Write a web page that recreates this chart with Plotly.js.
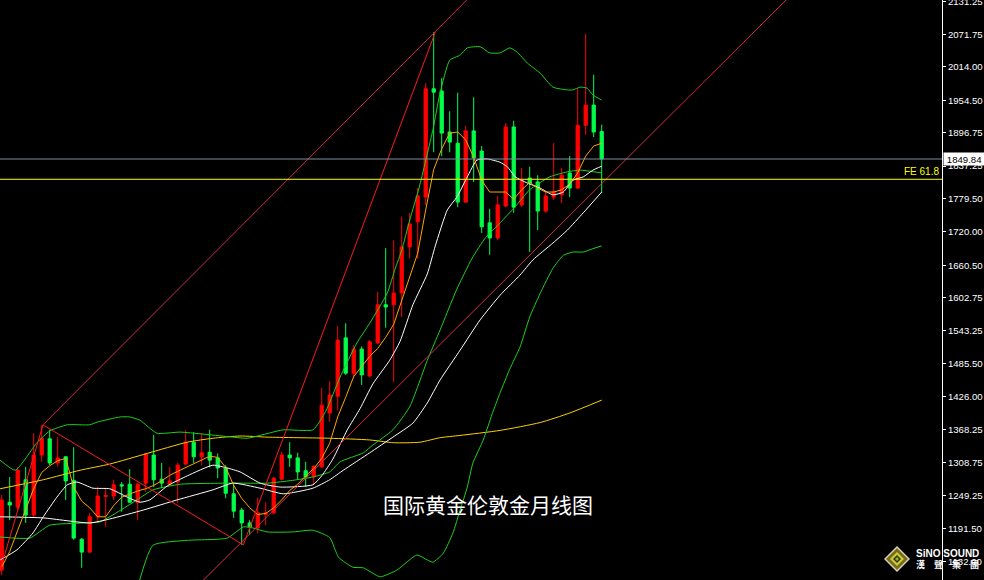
<!DOCTYPE html>
<html><head><meta charset="utf-8">
<script src="https://cdn.plot.ly/plotly-3.0.1.min.js"></script>
<style>html,body{margin:0;padding:0;background:#000;overflow:hidden}#chart{width:984px;height:580px}</style>
</head><body><div id="chart"></div>
<script>
// ---- monthly candles (index, OHLC) ----
const candleIndex = [0,1,2,3,4,5,6,7,8,9,10,11,12,13,14,15,16,17,18,19,20,21,22,23,24,25,26,27,28,29,30,31,32,33,34,35,36,37,38,39,40,41,42,43,44,45,46,47,48,49,50,51,52,53,54,55,56,57,58,59,60,61,62,63,64,65,66,67,68,69,70,71,72,73,74,75];
const openP  = [1117,1238,1229,1278,1215,1322,1351,1308,1319,1277,1172,1149,1212,1248,1249,1269,1270,1238,1272,1322,1279,1270,1274,1306,1345,1319,1327,1317,1299,1253,1224,1201,1192,1216,1219,1279,1322,1317,1294,1283,1301,1397,1427,1531,1468,1511,1463,1522,1590,1590,1611,1693,1738,1782,1975,1971,1898,1878,1773,1900,1864,1736,1709,1766,1907,1768,1816,1809,1757,1782,1786,1825,1798,1910,1946,1899];
const highP  = [1251,1283,1301,1301,1361,1376,1367,1354,1320,1336,1174,1219,1265,1263,1278,1274,1297,1272,1326,1358,1308,1301,1308,1367,1363,1361,1367,1325,1304,1269,1228,1206,1246,1238,1283,1328,1345,1326,1310,1304,1442,1454,1552,1557,1518,1516,1527,1613,1691,1705,1747,1754,1798,1985,2076,1994,1935,1968,1909,1960,1873,1761,1784,1914,1918,1834,1836,1821,1791,1878,1834,1855,1976,2073,2000,1911];
const lowP   = [1108,1206,1224,1201,1212,1310,1304,1301,1242,1171,1121,1147,1203,1194,1242,1221,1237,1206,1256,1265,1263,1269,1237,1304,1308,1304,1300,1281,1245,1210,1162,1180,1183,1197,1216,1277,1301,1278,1265,1270,1299,1381,1402,1465,1459,1447,1461,1520,1549,1452,1568,1673,1672,1768,1862,1855,1862,1764,1771,1809,1718,1679,1705,1764,1754,1764,1684,1723,1754,1777,1771,1782,1796,1893,1889,1789];
const closeP = [1242,1233,1295,1215,1322,1352,1308,1317,1276,1174,1149,1212,1249,1250,1269,1267,1238,1270,1324,1278,1272,1276,1304,1345,1319,1326,1313,1299,1254,1222,1201,1194,1219,1219,1281,1322,1317,1292,1283,1302,1411,1429,1527,1468,1511,1465,1524,1590,1586,1611,1693,1734,1784,1975,1969,1896,1880,1773,1900,1852,1729,1709,1768,1907,1764,1812,1807,1757,1784,1791,1821,1798,1910,1946,1898,1849.84];

// ---- indicator lines ----
const ma5 = [1122,1150,1188,1225,1262,1291,1303,1312,1316,1265,1240,1228,1212,1212,1232,1247,1253,1258,1262,1268,1276,1286,1293,1300,1307,1314,1320,1318,1300,1268,1245,1228,1216,1218,1228,1242,1259,1270,1285,1298,1316,1343,1390,1425,1462,1480,1498,1512,1532,1555,1598,1643,1682,1759,1831,1868,1896,1898,1884,1853,1812,1791,1791,1791,1778,1795,1808,1798,1791,1791,1795,1805,1825,1855,1873,1878];

const ma10X = [-0.2,1.9,3.9,5.2,6.9,8.2,9.4,11.4,13.5,15.7,17.3,18.5,20.7,23.2,26.4,28.2,29.8,32.3,34.8,38.9,40,41.4,43.2,44.8,46.4,48.5,49.8,51.4,53.2,54.2,55.7,56.9,58.2,59.4,60.7,62.3,63.2,64.2,65.7,67.3,68.9,70.2,71.4,72.7,73.9,75];
const ma10Y = [1135,1153,1183,1212,1247,1269,1274,1263,1262,1247,1238,1242,1267,1285,1304,1299,1292,1272,1265,1269,1285,1315,1367,1405,1449,1491,1525,1590,1645,1695,1759,1782,1818,1848,1850,1844,1836,1818,1807,1798,1786,1791,1812,1818,1830,1837];

const ma30X = [-0.2,5.2,11,13.5,17.7,21.9,26.4,28.9,32.3,35.2,38.9,41,42.7,46,48.9,51.4,53.2,54.8,57.3,59.8,62.3,64.8,66.4,68.9,70.7,72.7,75];
const ma30Y = [1212,1210,1201,1208,1224,1242,1260,1272,1263,1253,1263,1278,1295,1326,1354,1379,1415,1456,1509,1563,1607,1643,1670,1700,1723,1754,1791];

const bbMidX = [-0.2,3.5,6,10.2,12.3,16.9,18.9,22.3,28.9,33.2,36.4,38.9,41,42.3,45.2,46.4,48.9,51,53.2,54.8,56.8,58.8,60.5,62.3,64.2,66,68.5,70.7,72.3,75];
const bbMidY = [1176,1174,1197,1201,1203,1242,1260,1270,1272,1272,1277,1283,1292,1310,1326,1340,1367,1408,1491,1545,1615,1673,1710,1736,1765,1795,1818,1827,1830,1825];

const bbUpX = [-0.2,1.7,4.4,6,8.2,11,12,14.8,16,17.3,19.4,22.3,28.9,30.7,35.2,38.9,40.5,42.3,44.4,46,48.2,49.2,50,51,52.2,53.9,54.8,56,57.3,58.2,59.8,61,62.3,63.5,64.4,65.7,67.3,68.9,70.7,71.4,72.3,73.2,73.9,75];
const bbUpY = [1313,1295,1344,1365,1376,1376,1381,1390,1390,1384,1361,1363,1354,1352,1367,1367,1400,1461,1522,1557,1611,1655,1687,1741,1800,1902,1968,2026,2035,2048,2050,2039,2039,2048,2041,2021,2003,1978,1973,1973,1978,1976,1964,1955];

const bbLoX = [16.5,18.9,23.2,28.2,30.2,31.4,33.2,36.4,38.9,41,42.1,43.9,45.2,47.3,49.4,51.9,53.2,53.9,55.2,56.4,57.3,58.2,58.9,60.2,61.3,62.3,63.5,64.8,66,67.3,68.9,70.2,71.4,72.7,73.9,75];
const bbLoY = [1060,1161,1170,1174,1194,1192,1185,1185,1188,1175,1140,1122,1121,1105,1117,1144,1135,1131,1147,1183,1224,1265,1308,1349,1395,1433,1475,1515,1568,1610,1655,1678,1684,1684,1690,1695];

const ma60X = [-0.2,5.2,9.8,13.5,18.2,23.2,26.4,29.8,33.2,41,46,49,52.3,54.8,57.3,62.3,67.3,71,75];
const ma60Y = [1262,1278,1295,1306,1325,1345,1352,1356,1354,1352,1349,1344,1345,1353,1357,1366,1380,1397,1420];

// ---- drawn analysis lines (index, price) ----
const zigzagX = [-1, 5.16, 30.2, 54.2];
const zigzagY = [1078, 1376, 1162, 2076];
const channelUpX = [5.16, 60];
const channelUpY = [1376, 2160];
const channelLoX = [24, 100];
const channelLoY = [1082, 2161];

const lastPrice = 1849.84;
const fePrice = 1813.7;
const feLabel = 'FE 61.8';
const chartTitle = '国际黄金伦敦金月线图';

const tickVals = [2131.25,2071.75,2014.00,1954.50,1896.75,1837.25,1779.50,1720.00,1660.50,1602.75,1543.25,1485.50,1426.00,1368.25,1308.75,1249.25,1191.50,1132.00];
const tickText = tickVals.map(v => v.toFixed(2));

// ---- layout helpers (pixel -> paper) ----
const PW = 942, PH = 580;
const px = x => x / PW;
const py = y => 1 - y / PH;
const AXFONT = 'Liberation Sans, Arial, sans-serif';

const line = (x, y, color, extra) => ({
  type: 'scatter', mode: 'lines', x: x, y: y, hoverinfo: 'skip',
  line: Object.assign({color: color, width: 1}, extra || {})
});

const traces = [
  {
    type: 'candlestick', x: candleIndex, open: openP, high: highP, low: lowP, close: closeP,
    increasing: {line: {color: '#ff0000', width: 1}, fillcolor: '#ff0000'},
    decreasing: {line: {color: '#00ff48', width: 1}, fillcolor: '#00ff48'},
    whiskerwidth: 0, hoverinfo: 'skip'
  },
  line(ma60X, ma60Y, '#ffd000', {shape: 'spline', smoothing: 0.6}),
  line(bbUpX, bbUpY, '#1ad21a', {shape: 'spline', smoothing: 0.5}),
  line(bbMidX, bbMidY, '#1ad21a', {shape: 'spline', smoothing: 0.5}),
  line(bbLoX, bbLoY, '#1ad21a', {shape: 'spline', smoothing: 0.5}),
  line(ma30X, ma30Y, '#ffffff', {shape: 'spline', smoothing: 0.5}),
  line(ma10X, ma10Y, '#ffffff', {shape: 'spline', smoothing: 0.5}),
  line(candleIndex, ma5, '#ffa500'),
  line(zigzagX, zigzagY, '#ff1a1a'),
  line(channelUpX, channelUpY, '#d22b45'),
  line(channelLoX, channelLoY, '#d22b45')
];

const diamond = (cx, cy, r) => `M ${px(cx)} ${py(cy - r)} L ${px(cx + r)} ${py(cy)} L ${px(cx)} ${py(cy + r)} L ${px(cx - r)} ${py(cy)} Z`;

const layout = {
  width: 984, height: 580,
  paper_bgcolor: '#000', plot_bgcolor: '#000',
  margin: {l: 0, r: 42, t: 0, b: 0, pad: 0},
  showlegend: false,
  boxgap: 0.42,
  xaxis: {range: [-0.2125, 117.5375], visible: false, fixedrange: true, rangeslider: {visible: false}},
  yaxis: {
    range: [1099.3, 2133.33], side: 'right', fixedrange: true,
    showgrid: false, zeroline: false,
    showline: true, linecolor: '#ffffff', linewidth: 1,
    ticks: 'outside', ticklen: 3, tickcolor: '#ffffff', tickwidth: 1,
    tickvals: tickVals, ticktext: tickText, ticklabelstandoff: 0,
    ticklabeloverflow: 'allow',
    tickfont: {family: AXFONT, size: 9.6, color: '#ffffff'}
  },
  shapes: [
    {type: 'line', xref: 'paper', yref: 'y', x0: 0, x1: 1, y0: lastPrice, y1: lastPrice, line: {color: '#7f8fa0', width: 1}},
    {type: 'line', xref: 'paper', yref: 'y', x0: 0, x1: 1, y0: fePrice, y1: fePrice, line: {color: '#ffff00', width: 1}},
    {type: 'path', xref: 'paper', yref: 'paper', path: diamond(897, 559, 13), fillcolor: '#d8d4b8', line: {width: 0}, layer: 'above'},
    {type: 'path', xref: 'paper', yref: 'paper', path: diamond(897, 559, 11), fillcolor: '#7a6a20', line: {width: 0}, layer: 'above'},
    {type: 'path', xref: 'paper', yref: 'paper', path: diamond(897, 559, 7), fillcolor: '#c8d030', line: {width: 0}, layer: 'above'},
    {type: 'path', xref: 'paper', yref: 'paper', path: diamond(897, 559, 4), fillcolor: '#303010', line: {width: 0}, layer: 'above'},
    {type: 'path', xref: 'paper', yref: 'paper', path: diamond(897, 559, 2), fillcolor: '#a0b020', line: {width: 0}, layer: 'above'}
  ],
  annotations: [
    {xref: 'paper', yref: 'y', x: 1, y: lastPrice, xanchor: 'left', yanchor: 'middle', yshift: 0, xshift: 1,
     text: lastPrice.toFixed(2), showarrow: false, bgcolor: '#ffffff', width: 41, height: 12, borderpad: 0,
     font: {family: AXFONT, size: 9.6, color: '#000000'}},
    {xref: 'paper', yref: 'y', x: 1, y: fePrice, xanchor: 'right', yanchor: 'bottom', xshift: -1, yshift: 0,
     text: feLabel, showarrow: false,
     font: {family: AXFONT, size: 10, color: '#ffff00'}},
    {xref: 'paper', yref: 'paper', x: px(488), y: py(504), xanchor: 'center', yanchor: 'middle',
     text: chartTitle, showarrow: false,
     font: {family: 'Noto Sans CJK SC', size: 21, color: '#ffffff'}},
    {xref: 'paper', yref: 'paper', x: px(914), y: py(553), xanchor: 'left', yanchor: 'middle',
     text: '<b>SiNO SOUND</b>', showarrow: false,
     font: {family: 'Liberation Sans', size: 10, color: '#ffffff'}},
    {xref: 'paper', yref: 'paper', x: px(914), y: py(564), xanchor: 'left', yanchor: 'middle',
     text: '<b>漢　聲　集　團</b>', showarrow: false,
     font: {family: 'Noto Sans CJK TC', size: 9, color: '#ffffff'}}
  ]
};

Plotly.newPlot('chart', traces, layout, {displayModeBar: false, staticPlot: true});
</script>
</body></html>
